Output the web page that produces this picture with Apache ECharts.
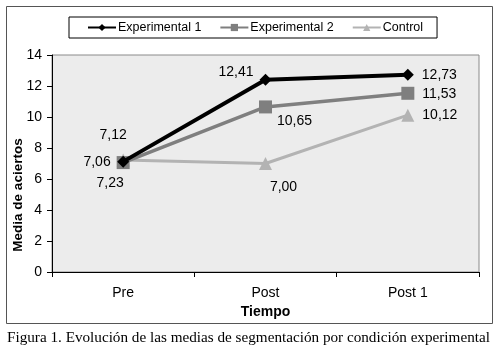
<!DOCTYPE html>
<html>
  <head>
    <meta charset="utf-8" />
    <title>Figura 1</title>
    <script src="https://cdnjs.cloudflare.com/ajax/libs/echarts/6.0.0/echarts.min.js"></script>
  </head>
  <body style="margin:0;background:#fff;">
    <div id="main" style="width: 497px;height: 352px;"></div>
    <script type="text/javascript">
      var tiempos = ['Pre', 'Post', 'Post 1'];
      var experimental1 = [7.12, 12.41, 12.73];
      var experimental2 = [7.06, 10.65, 11.53];
      var control = [7.23, 7.00, 10.12];
      var yTicks = [0, 2, 4, 6, 8, 10, 12, 14];

      var myChart = echarts.init(document.getElementById('main'));
      var sans = 'Liberation Sans, Arial, sans-serif';

      function fmt(p) {
        return p.value.toFixed(2).replace('.', ',');
      }

      // label placement per point, [position, offset]
      function withLabels(values, places) {
        return values.map(function (v, i) {
          return {
            value: v,
            label: { position: places[i][0], offset: places[i][1] }
          };
        });
      }

      var baseLabel = {
        show: true,
        formatter: fmt,
        color: '#000',
        fontSize: 14,
        fontFamily: sans
      };

      var option = {
        animation: false,
        backgroundColor: '#fff',
        legend: {
          left: 69,
          top: 17,
          padding: [4, 14, 4, 18],
          itemGap: 18,
          itemWidth: 28,
          itemHeight: 9,
          borderColor: '#000',
          borderWidth: 1,
          textStyle: { fontSize: 12.5, color: '#000', fontFamily: sans, padding: [0, 0, 0, -3] },
          data: ['Experimental 1', 'Experimental 2', 'Control']
        },
        grid: {
          left: 52,
          right: 18,
          top: 55,
          bottom: 80,
          show: true,
          backgroundColor: '#ececec',
          borderColor: '#8a8a8a',
          borderWidth: 1
        },
        xAxis: {
          type: 'category',
          data: tiempos,
          boundaryGap: true,
          name: 'Tiempo',
          nameLocation: 'middle',
          nameGap: 31,
          nameTextStyle: { fontSize: 14, fontWeight: 'bold', color: '#000', fontFamily: sans },
          axisLine: { lineStyle: { color: '#000', width: 1 } },
          axisTick: { show: true, interval: 0, length: 5, lineStyle: { color: '#000' } },
          axisLabel: { fontSize: 14, color: '#000', margin: 14, fontFamily: sans }
        },
        yAxis: {
          type: 'value',
          min: yTicks[0],
          max: yTicks[yTicks.length - 1],
          interval: 2,
          axisLine: { show: true, lineStyle: { color: '#000', width: 1 } },
          axisTick: { show: true, length: 5, lineStyle: { color: '#000' } },
          axisLabel: { fontSize: 14, color: '#000', margin: 10, fontFamily: sans },
          splitLine: { show: false }
        },
        series: [
          {
            name: 'Control',
            type: 'line',
            z: 2,
            data: withLabels(control, [['bottom', [-13, 5]], ['bottom', [18, 5]], ['right', [3, 0]]]),
            symbol: 'triangle',
            symbolSize: 13,
            color: '#b3b3b3',
            lineStyle: { width: 3, color: '#b3b3b3' },
            itemStyle: { color: '#b3b3b3' },
            label: baseLabel
          },
          {
            name: 'Experimental 2',
            type: 'line',
            z: 3,
            data: withLabels(experimental2, [['left', [-1, 0]], ['bottom', [29, -4]], ['right', [3, 1]]]),
            symbol: 'rect',
            symbolSize: 13,
            color: '#7f7f7f',
            lineStyle: { width: 3.5, color: '#7f7f7f' },
            itemStyle: { color: '#7f7f7f' },
            label: baseLabel
          },
          {
            name: 'Experimental 1',
            type: 'line',
            z: 4,
            data: withLabels(experimental1, [['top', [-10, -8]], ['left', [-1, -8]], ['right', [3, 0]]]),
            symbol: 'diamond',
            symbolSize: 12,
            color: '#000',
            lineStyle: { width: 4, color: '#000' },
            itemStyle: { color: '#000' },
            label: baseLabel
          }
        ],
        graphic: [
          {
            type: 'rect',
            shape: { x: 6.5, y: 6.5, width: 486, height: 317 },
            style: { fill: 'none', stroke: '#555', lineWidth: 1 },
            silent: true,
            z: -1
          },
          {
            type: 'text',
            x: 18,
            y: 195,
            rotation: Math.PI / 2,
            style: {
              text: 'Media de aciertos',
              fontSize: 13.5,
              fontWeight: 'bold',
              fontFamily: sans,
              fill: '#000',
              align: 'center',
              verticalAlign: 'middle'
            }
          },
          {
            type: 'text',
            left: 7,
            top: 331,
            style: {
              text: 'Figura 1. Evolución de las medias de segmentación por condición experimental',
              fontSize: 15.2,
              fontFamily: 'Liberation Serif, Times New Roman, serif',
              fill: '#000'
            }
          }
        ]
      };

      myChart.setOption(option);
    </script>
  </body>
</html>
